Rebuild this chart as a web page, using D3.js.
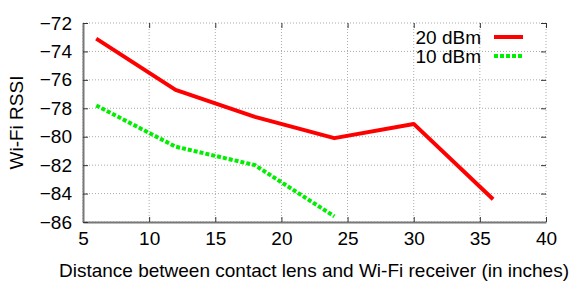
<!DOCTYPE html>
<html>
<head>
<meta charset="utf-8">
<script src="https://cdn.jsdelivr.net/npm/d3@7"></script>
<style>
  body { margin: 0; background: #fff; }
  text { font-family: "Liberation Sans", Arial, sans-serif; fill: #000; }
</style>
</head>
<body>
<div id="chart"></div>
<script>
const distances = [6, 12, 18, 24, 30, 36];
const rssi20 = [-73.1, -76.7, -78.6, -80.1, -79.1, -84.4];
const rssi10 = [-77.8, -80.7, -82.0, -85.6];
const xTicks = [5, 10, 15, 20, 25, 30, 35, 40];
const yTicks = [-72, -74, -76, -78, -80, -82, -84, -86];

const W = 581, H = 284;
const Margin = { Top: 23, Bottom: 62, Left: 83, Right: 35 };
const Width = W - Margin.Left - Margin.Right;
const Height = H - Margin.Top - Margin.Bottom;
const FontSize = '19px';

const svg = d3.select('#chart').append('svg')
  .attr('width', W).attr('height', H);
const g = svg.append('g').attr('transform', `translate(${Margin.Left}, ${Margin.Top})`);

const x = d3.scaleLinear().domain([5, 40]).range([0, Width]);
const y = d3.scaleLinear().domain([-86, -72]).range([Height, 0]);

// grid
g.append('g').selectAll('line').data(xTicks).enter().append('line')
  .attr('x1', d => x(d)).attr('x2', d => x(d)).attr('y1', 0).attr('y2', Height)
  .attr('stroke', '#aaa').attr('stroke-width', 1).attr('stroke-dasharray', '1,2');
g.append('g').selectAll('line').data(yTicks).enter().append('line')
  .attr('y1', d => y(d)).attr('y2', d => y(d)).attr('x1', 0).attr('x2', Width)
  .attr('stroke', '#aaa').attr('stroke-width', 1).attr('stroke-dasharray', '1,2');

// mirror ticks (inward)
g.append('g').call(d3.axisTop(x).tickValues(xTicks).tickSizeInner(-5).tickSizeOuter(0).tickFormat(''))
  .call(a => a.select('.domain').remove())
  .call(a => a.selectAll('line').attr('stroke', '#333'));
g.append('g').attr('transform', `translate(${Width},0)`)
  .call(d3.axisRight(y).tickValues(yTicks).tickSizeInner(-5).tickSizeOuter(0).tickFormat(''))
  .call(a => a.select('.domain').remove())
  .call(a => a.selectAll('line').attr('stroke', '#333'));

// main axes
const xAxis = g.append('g').attr('transform', `translate(0, ${Height})`)
  .call(d3.axisBottom(x).tickValues(xTicks).tickSizeInner(-5).tickSizeOuter(0).tickPadding(10));
const yAxis = g.append('g')
  .call(d3.axisLeft(y).tickValues(yTicks).tickSizeInner(-5).tickSizeOuter(0).tickPadding(11));
[xAxis, yAxis].forEach(a => {
  a.select('.domain').attr('stroke', '#777').attr('stroke-width', 2);
  a.selectAll('line').attr('stroke', '#333');
  a.selectAll('text').style('font-size', FontSize).style('font-family', '"Liberation Sans", Arial, sans-serif');
});
xAxis.selectAll('text').attr('dy', '0.71em');

// lines
const line = d3.line().x(d => x(d[0])).y(d => y(d[1]));
g.append('path').datum(rssi20.map((v, i) => [distances[i], v]))
  .attr('d', line).attr('fill', 'none').attr('stroke', '#ff0000').attr('stroke-width', 4)
  .attr('stroke-linejoin', 'round');
g.append('path').datum(rssi10.map((v, i) => [distances[i], v]))
  .attr('d', line).attr('fill', 'none').attr('stroke', '#00ee00').attr('stroke-width', 4)
  .attr('stroke-dasharray', '4,2');

// legend
const legend = [
  { label: '20 dBm', color: '#ff0000', dash: null, y: 37 },
  { label: '10 dBm', color: '#00ee00', dash: '4,2', y: 56 }
];
legend.forEach(l => {
  svg.append('text').attr('x', 481).attr('y', l.y + 7).attr('text-anchor', 'end')
    .style('font-size', FontSize).text(l.label);
  svg.append('line').attr('x1', 494).attr('x2', 523).attr('y1', l.y).attr('y2', l.y)
    .attr('stroke', l.color).attr('stroke-width', 4).attr('stroke-dasharray', l.dash);
});

// titles
svg.append('text').attr('x', 314).attr('y', 277).attr('text-anchor', 'middle')
  .style('font-size', FontSize).text('Distance between contact lens and Wi-Fi receiver (in inches)');
svg.append('text').attr('transform', `translate(23, ${Margin.Top + Height / 2}) rotate(-90)`)
  .attr('text-anchor', 'middle').style('font-size', FontSize).text('Wi-Fi RSSI');
</script>
</body>
</html>
